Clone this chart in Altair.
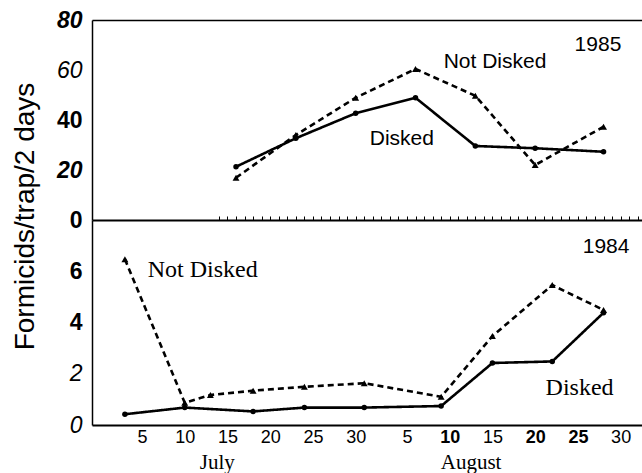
import altair as alt
import pandas as pd

# ---- data ----
# day number: July d -> d, August d -> 31 + d
days_1985 = [16, 23, 30, 37, 44, 51, 59]
disked_1985 = [21.3, 32.7, 42.7, 48.9, 29.6, 28.7, 27.3]
not_disked_1985 = [16.9, 34.0, 48.9, 60.4, 49.7, 22.0, 37.3]

days_1984_disked = [3, 10, 18, 24, 31, 40, 46, 53, 59]
disked_1984 = [0.42, 0.68, 0.53, 0.68, 0.68, 0.74, 2.42, 2.48, 4.38]
days_1984_not = [3, 10, 13, 18, 24, 31, 40, 46, 53, 59]
not_disked_1984 = [6.47, 0.87, 1.17, 1.34, 1.49, 1.63, 1.10, 3.47, 5.46, 4.49]

x_label_days = [5, 10, 15, 20, 25, 30, 36, 41, 46, 51, 56, 61]
daily_ticks = list(range(14, 64))

ann_1985_text = ["1985", "Not Disked", "Disked"]
ann_1985_day = [58.35, 46.3, 35.4]
ann_1985_val = [70.0, 63.2, 32.4]

ann_1984_text = ["1984", "Not Disked", "Disked"]
ann_1984_day = [59.3, 12.1, 56.2]
ann_1984_val = [6.96, 6.05, 1.45]

month_text = ["July", "August"]
month_day = [13.8, 43.5]

SERIES = ["Disked", "Not Disked"]
SANS = "Liberation Sans, Arial, sans-serif"
SERIF = "Liberation Serif, Times New Roman, DejaVu Serif, serif"

df85 = pd.DataFrame({
    "day": days_1985 + days_1985,
    "value": disked_1985 + not_disked_1985,
    "series": ["Disked"] * len(days_1985) + ["Not Disked"] * len(days_1985),
})
df84 = pd.DataFrame({
    "day": days_1984_disked + days_1984_not,
    "value": disked_1984 + not_disked_1984,
    "series": ["Disked"] * len(days_1984_disked) + ["Not Disked"] * len(days_1984_not),
})
ann85 = pd.DataFrame({"t": ann_1985_text, "day": ann_1985_day, "value": ann_1985_val})
ann84 = pd.DataFrame({"t": ann_1984_text, "day": ann_1984_day, "value": ann_1984_val})
months = pd.DataFrame({"t": month_text, "day": month_day})

W, H_TOP, H_BOT = 550, 200, 205
H = H_TOP + H_BOT

xscale = alt.Scale(domain=[-0.85, 63.5], nice=False, zero=False)
y85 = alt.Scale(domain=[0, 80], range=[H_TOP, 0], nice=False, zero=False)
y84 = alt.Scale(domain=[0, 8], range=[H, H_TOP], nice=False, zero=False)

dash = alt.StrokeDash("series:N", scale=alt.Scale(domain=SERIES, range=[[1, 0], [6, 4]]), legend=None)
shape = alt.Shape("series:N", scale=alt.Scale(domain=SERIES, range=["circle", "triangle-up"]), legend=None)
size = alt.Size("series:N", scale=alt.Scale(domain=SERIES, range=[30, 48]), legend=None)

# ---------------- axes ----------------
top_x_axis = alt.Axis(orient="top", labels=False, ticks=False, domain=True, domainColor="black",
                      domainWidth=1.5, grid=False, title=None)
mid_x_axis = alt.Axis(orient="top", offset=-H_TOP, values=daily_ticks, labels=False, ticks=True,
                      tickSize=4, tickColor="black", tickWidth=1, domain=True, domainColor="black",
                      domainWidth=1.8, grid=False, title=None)
bot_x_axis = alt.Axis(
    orient="bottom", values=x_label_days, labelExpr="datum.value > 31 ? datum.value - 31 : datum.value",
    ticks=False, domain=True, domainColor="black", domainWidth=1.8, grid=False, title=None,
    labelFont=SANS, labelFontSize=18, labelColor="black", labelPadding=3, labelFlush=False,
    labelFontWeight={"condition": {"test": "datum.value == 41 || datum.value == 51 || datum.value == 56",
                                   "value": "bold"}, "value": "normal"},
)
top_y_axis = alt.Axis(
    orient="left", values=[0, 20, 40, 60, 80], grid=False, ticks=False, domain=True, domainColor="black",
    domainWidth=1.5, labelFont=SANS, labelFontSize=23, labelColor="black", labelPadding=10,
    labelFontWeight={"condition": {"test": "datum.value == 60", "value": "normal"}, "value": "bold"},
    labelFontStyle={"condition": {"test": "datum.value == 80 || datum.value == 60 || datum.value == 20",
                                  "value": "italic"}, "value": "normal"},
    title="Formicids/trap/2 days", titleFont=SANS, titleFontSize=28, titleFontWeight="normal",
    titleColor="black", titleX=-67, titleY=196, titleAngle=270, titleAlign="center", titleBaseline="middle",
)
bot_y_axis = alt.Axis(
    orient="left", values=[0, 2, 4, 6], grid=False, ticks=False, domain=True, domainColor="black",
    domainWidth=1.5, labelFont=SANS, labelFontSize=23, labelColor="black", labelPadding=10,
    labelFontWeight={"condition": {"test": "datum.value <= 2", "value": "normal"}, "value": "bold"},
    labelFontStyle={"condition": {"test": "datum.value <= 2", "value": "italic"}, "value": "normal"},
    title=None,
)

# ---------------- top panel (1985) ----------------
base85 = alt.Chart(df85)
line85 = base85.mark_line(color="black", strokeWidth=2.6).encode(
    x=alt.X("day:Q", scale=xscale, axis=top_x_axis),
    y=alt.Y("value:Q", scale=y85, axis=top_y_axis),
    strokeDash=dash, detail="series:N",
)
pts85 = base85.mark_point(filled=True, color="black", opacity=1).encode(
    x=alt.X("day:Q", scale=xscale, axis=None),
    y=alt.Y("value:Q", scale=y85, axis=None),
    shape=shape, size=size,
)
txt85 = alt.Chart(ann85).mark_text(font=SANS, fontSize=21, color="black", align="center",
                                   baseline="middle").encode(
    x=alt.X("day:Q", scale=xscale, axis=None),
    y=alt.Y("value:Q", scale=y85, axis=None),
    text="t:N",
)

# ---------------- bottom panel (1984) ----------------
base84 = alt.Chart(df84)
line84 = base84.mark_line(color="black", strokeWidth=2.6).encode(
    x=alt.X("day:Q", scale=xscale, axis=bot_x_axis),
    y=alt.Y("value:Q", scale=y84, axis=bot_y_axis),
    strokeDash=dash, detail="series:N",
)
pts84 = base84.mark_point(filled=True, color="black", opacity=1).encode(
    x=alt.X("day:Q", scale=xscale, axis=mid_x_axis),
    y=alt.Y("value:Q", scale=y84, axis=None),
    shape=shape, size=size,
)
txt84_sans = alt.Chart(ann84[ann84["t"] == "1984"]).mark_text(
    font=SANS, fontSize=21, color="black", align="center", baseline="middle").encode(
    x=alt.X("day:Q", scale=xscale, axis=None),
    y=alt.Y("value:Q", scale=y84, axis=None),
    text="t:N",
)
txt84_serif = alt.Chart(ann84[ann84["t"] != "1984"]).mark_text(
    font=SERIF, fontSize=24, color="black", align="center", baseline="middle").encode(
    x=alt.X("day:Q", scale=xscale, axis=None),
    y=alt.Y("value:Q", scale=y84, axis=None),
    text="t:N",
)
month_txt = alt.Chart(months).mark_text(
    font=SERIF, fontSize=21, color="black", align="center", baseline="middle").encode(
    x=alt.X("day:Q", scale=xscale, axis=None),
    y=alt.value(H + 38),
    text="t:N",
)

chart = alt.layer(
    line85, pts85, txt85, line84, pts84, txt84_sans, txt84_serif, month_txt
).resolve_scale(y="independent").resolve_axis(x="independent", y="independent").properties(
    width=W, height=H,
    padding={"left": 92, "top": 20, "right": 0, "bottom": 48},
    autosize=alt.AutoSizeParams(type="none"),
    background="white",
).configure_view(stroke=None)

chart.save("out.html", embed_options={"renderer": "svg", "actions": False})
